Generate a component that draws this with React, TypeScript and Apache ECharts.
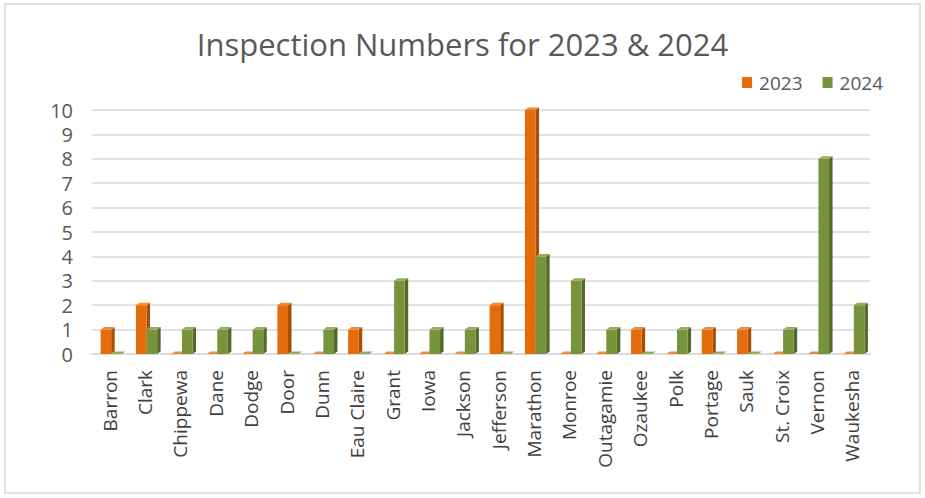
import React, { useEffect, useRef } from "react";
import * as echarts from "echarts";

const categories = [
  "Barron", "Clark", "Chippewa", "Dane", "Dodge", "Door", "Dunn", "Eau Claire",
  "Grant", "Iowa", "Jackson", "Jefferson", "Marathon", "Monroe", "Outagamie",
  "Ozaukee", "Polk", "Portage", "Sauk", "St. Croix", "Vernon", "Waukesha",
];
const values2023 = [1, 2, 0, 0, 0, 2, 0, 1, 0, 0, 0, 2, 10, 0, 0, 1, 0, 1, 1, 0, 0, 0];
const values2024 = [0, 1, 1, 1, 1, 0, 1, 0, 3, 1, 1, 0, 4, 3, 1, 0, 1, 0, 0, 1, 8, 2];
const yTicks = [0, 10, 1];

const seriesStyle = [
  { name: "2023", front: "#E46C0A", side: "#A84F07", top: "#F08A3A" },
  { name: "2024", front: "#77933C", side: "#55692A", top: "#93AD5A" },
];

function makeRender(idx: number) {
  const st = seriesStyle[idx];
  return (params: any, api: any) => {
    const cat = api.value(0);
    const val = api.value(1);
    const base = api.coord([cat, 0]);
    const top = api.coord([cat, val]);
    const band = api.size([1, 0])[0];
    const w = band * 0.3;
    const dx = 3.5;
    const dy = 2.5;
    const x0 = base[0] - w + 1.5 + idx * w;
    const x1 = x0 + w;
    const yt = top[1];
    const yb = base[1];
    return {
      type: "group",
      children: [
        {
          type: "polygon",
          shape: { points: [[x1, yt], [x1 + dx, yt - dy], [x1 + dx, yb - dy], [x1, yb]] },
          style: { fill: st.side },
        },
        {
          type: "rect",
          shape: { x: x0, y: yt, width: w, height: yb - yt },
          style: { fill: st.front },
        },
        {
          type: "polygon",
          shape: { points: [[x0, yt], [x0 + dx, yt - dy], [x1 + dx, yt - dy], [x1, yt]] },
          style: { fill: st.top },
        },
      ],
    };
  };
}

export default function App() {
  const ref = useRef<HTMLDivElement>(null);
  useEffect(() => {
    document.body.style.margin = "0";
    const chart = echarts.init(ref.current!, null, { renderer: "svg" });
    chart.setOption({
      animation: false,
      backgroundColor: "#ffffff",
      textStyle: { fontFamily: "Open Sans" },
      title: {
        text: "Inspection Numbers for 2023 & 2024",
        left: "center",
        top: 23,
        textStyle: { fontFamily: "Open Sans", fontSize: 31, fontWeight: "normal", color: "#595959" },
      },
      legend: {
        right: 37,
        top: 68,
        icon: "rect",
        itemWidth: 10,
        itemHeight: 11,
        itemGap: 20,
        textStyle: { fontFamily: "Open Sans", fontSize: 19, color: "#595959", padding: [0, 0, 0, 2] },
        data: ["2023", "2024"],
      },
      grid: { left: 92, right: 55, top: 110, bottom: 144 },
      xAxis: {
        type: "category",
        data: categories,
        axisTick: { show: false },
        axisLine: { lineStyle: { color: "#D9D9D9", width: 1.5 } },
        axisLabel: {
          rotate: 90,
          fontSize: 19,
          color: "#404040",
          margin: 16,
          interval: 0,
          fontFamily: "Open Sans",
        },
      },
      yAxis: {
        type: "value",
        min: yTicks[0],
        max: yTicks[1],
        interval: yTicks[2],
        axisLine: { show: false },
        axisTick: { show: false },
        axisLabel: { fontSize: 20, color: "#595959", margin: 19, fontFamily: "Open Sans" },
        splitLine: { lineStyle: { color: "#D9D9D9", width: 1.5 } },
      },
      series: [
        {
          name: "2023",
          type: "custom",
          itemStyle: { color: seriesStyle[0].front },
          renderItem: makeRender(0),
          encode: { x: 0, y: 1 },
          data: values2023.map((v, i) => [i, v]),
        },
        {
          name: "2024",
          type: "custom",
          itemStyle: { color: seriesStyle[1].front },
          renderItem: makeRender(1),
          encode: { x: 0, y: 1 },
          data: values2024.map((v, i) => [i, v]),
        },
      ],
      graphic: [
        {
          type: "rect",
          shape: { x: 5, y: 4, width: 915, height: 489 },
          style: { fill: "none", stroke: "#D9D9D9", lineWidth: 1.5 },
          silent: true,
        },
      ],
    });
    return () => chart.dispose();
  }, []);
  return <div ref={ref} style={{ width: 925, height: 498 }} />;
}
